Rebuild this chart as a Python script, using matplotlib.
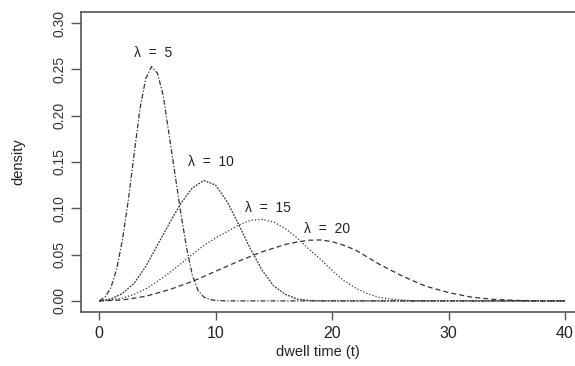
import matplotlib
matplotlib.use("Agg")
import matplotlib.pyplot as plt

plt.rcParams['font.family'] = ['Liberation Sans', 'DejaVu Sans']

# dwell time grid and density readings for each lambda
t_5 = [0, 0.5, 1, 1.5, 2, 2.5, 3, 3.5, 4, 4.5, 5, 5.5, 6, 6.5, 7, 7.5, 8, 8.5, 9, 9.5, 10, 11, 40]
d_5 = [0, 0.004, 0.014, 0.034, 0.066, 0.108, 0.158, 0.207, 0.240, 0.253, 0.246, 0.222, 0.180, 0.138,
       0.096, 0.058, 0.028, 0.011, 0.004, 0.0015, 0.0005, 0, 0]

t_10 = [0, 1, 2, 3, 4, 5, 6, 7, 8, 9, 10, 11, 12, 13, 14, 15, 16, 17, 18, 19, 40]
d_10 = [0, 0.002, 0.008, 0.019, 0.037, 0.060, 0.083, 0.105, 0.122, 0.130, 0.125, 0.107, 0.082,
        0.056, 0.033, 0.016, 0.007, 0.002, 0.0005, 0, 0]

t_15 = [0, 1, 2, 3, 4, 5, 6, 7, 8, 9, 10, 11, 12, 13, 14, 15, 16, 17, 18, 19, 20, 21, 22, 23, 24,
        25, 26, 27, 40]
d_15 = [0, 0.001, 0.003, 0.007, 0.013, 0.021, 0.030, 0.040, 0.050, 0.060, 0.068, 0.075, 0.082,
        0.087, 0.088, 0.085, 0.078, 0.068, 0.056, 0.045, 0.033, 0.022, 0.014, 0.008, 0.004, 0.002,
        0.001, 0, 0]

t_20 = [0, 2, 4, 6, 8, 10, 12, 14, 16, 17, 18, 19, 20, 21, 22, 24, 26, 28, 30, 32, 34, 36, 38, 40]
d_20 = [0, 0.001, 0.005, 0.012, 0.021, 0.032, 0.043, 0.053, 0.061, 0.0635, 0.0655, 0.0658, 0.064,
        0.060, 0.055, 0.040, 0.027, 0.016, 0.009, 0.004, 0.0015, 0.0005, 0, 0]

labels = ['λ  =  5', 'λ  =  10', 'λ  =  15', 'λ  =  20']
label_xy = [(4.6, 0.268), (9.6, 0.150), (14.5, 0.100), (19.6, 0.0775)]

ink = '#333333'

fig = plt.figure(figsize=(5.75, 3.66), dpi=100)
ax = fig.add_axes([0.140, 0.1475, 0.875, 0.82])

ax.plot(t_5, d_5, color=ink, lw=0.9, linestyle=(0, (4, 1.5, 1, 1.5)))
ax.plot(t_10, d_10, color=ink, lw=0.9, linestyle=(0, (1.5, 1)))
ax.plot(t_15, d_15, color=ink, lw=0.9, linestyle=(0, (1, 1.6)))
ax.plot(t_20, d_20, color=ink, lw=0.9, linestyle=(0, (4, 2.5)))

for txt, (x, y) in zip(labels, label_xy):
    ax.text(x, y, txt, ha='center', va='center', fontsize=10, color='#222222')

ax.set_xlim(-1.6, 41.6)
ax.set_ylim(-0.012, 0.312)
ax.set_xticks([0, 10, 20, 30, 40])
ax.set_yticks([0.00, 0.05, 0.10, 0.15, 0.20, 0.25, 0.30])
ax.set_yticklabels(['0.00', '0.05', '0.10', '0.15', '0.20', '0.25', '0.30'],
                   rotation=90, va='center', fontsize=10, color='#333333')
ax.tick_params(axis='y', length=7, width=1, color='#555555', pad=3)
ax.tick_params(axis='x', length=6, width=1, color='#555555', pad=4, labelsize=11.5,
               labelcolor='#222222')
for s in ax.spines.values():
    s.set_color('#555555')
    s.set_linewidth(1.2)
ax.spines['right'].set_visible(False)

fig.text(18 / 575, 1 - 162 / 366, 'density', rotation=90, ha='center', va='center',
         fontsize=10.5, color='#222222')
fig.text(318 / 575, 1 - 352 / 366, 'dwell time (t)', ha='center', va='center',
         fontsize=10.5, color='#222222')

fig.savefig('out.png', dpi=100)
